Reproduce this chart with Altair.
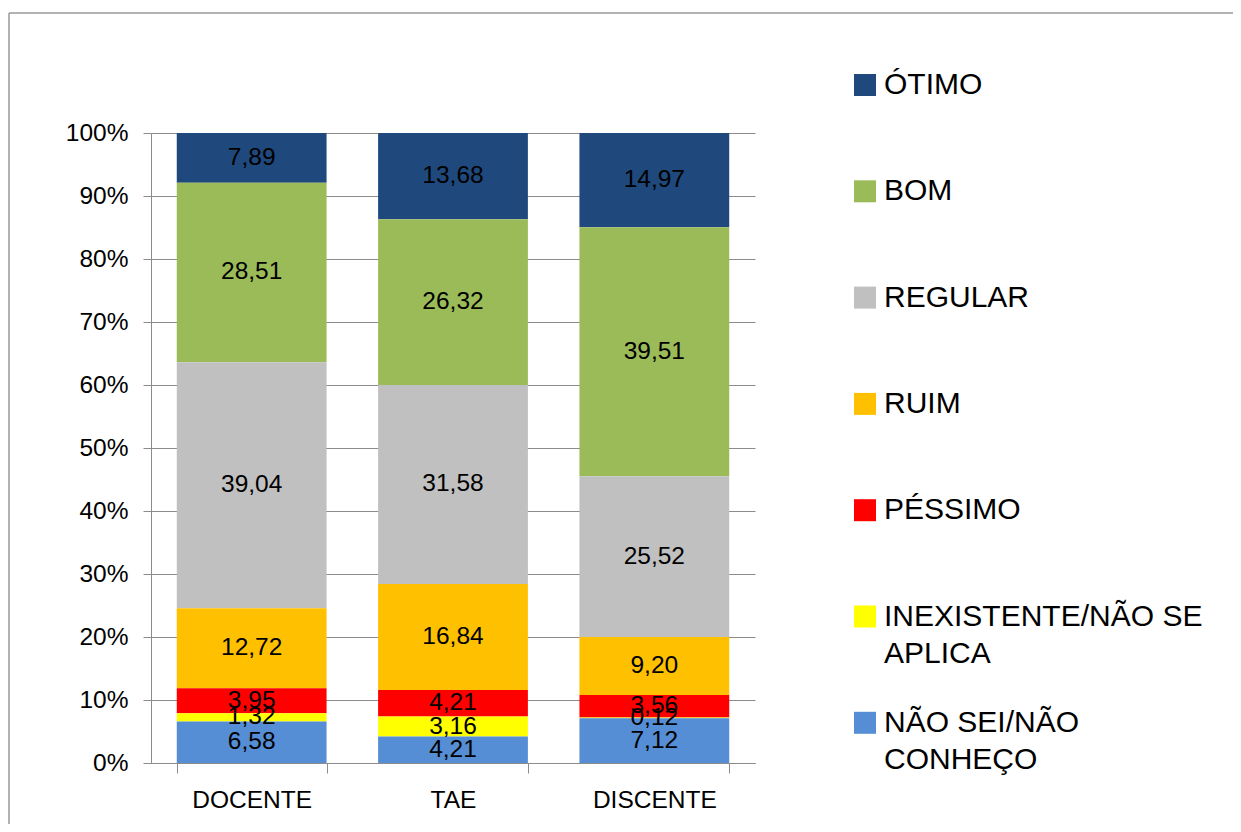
import json
import altair as alt
import pandas as pd

categories = ["DOCENTE", "TAE", "DISCENTE"]
series = ["ÓTIMO", "BOM", "REGULAR", "RUIM", "PÉSSIMO",
          "INEXISTENTE/NÃO SE APLICA", "NÃO SEI/NÃO CONHEÇO"]
colors = ["#1F497D", "#9BBB59", "#C0C0C0", "#FFC000", "#FF0000", "#FFFF00", "#558ED5"]

otimo = [7.89, 13.68, 14.97]
bom = [28.51, 26.32, 39.51]
regular = [39.04, 31.58, 25.52]
ruim = [12.72, 16.84, 9.20]
pessimo = [3.95, 4.21, 3.56]
inexistente = [1.32, 3.16, 0.12]
nao_sei = [6.58, 4.21, 7.12]

legend_lines = {
    "INEXISTENTE/NÃO SE APLICA": ["INEXISTENTE/NÃO SE", "APLICA"],
    "NÃO SEI/NÃO CONHEÇO": ["NÃO SEI/NÃO", "CONHEÇO"],
}
y_ticks = [i / 10 for i in range(11)]

all_values = [otimo, bom, regular, ruim, pessimo, inexistente, nao_sei]
rows = []
for si, (s, vals) in enumerate(zip(series, all_values)):
    for c, v in zip(categories, vals):
        rows.append({"cat": c, "serie": s, "valor": v, "ordem": len(series) - 1 - si})
df = pd.DataFrame(rows)

label_expr = "datum.label"
for k, v in legend_lines.items():
    label_expr = f"datum.label == '{k}' ? {json.dumps(v, ensure_ascii=False)} : ({label_expr})"

FONT = "Liberation Sans"
GRAY = "#8C8C8C"

base = (
    alt.Chart(df)
    .transform_stack(
        stack="valor", groupby=["cat"], as_=["y0", "y1"], offset="normalize",
        sort=[alt.SortField("ordem", order="ascending")],
    )
    .transform_calculate(
        ym="(datum.y0 + datum.y1) / 2",
        rot="replace(format(datum.valor, '.2f'), '.', ',')",
    )
)

x_enc = alt.X(
    "cat:N", sort=categories,
    scale=alt.Scale(paddingInner=0.256, paddingOuter=0.128),
    axis=alt.Axis(title=None, labelAngle=0, tickBand="extent", tickSize=10,
                  labelPadding=15, domainColor=GRAY, tickColor=GRAY,
                  labelFont=FONT, labelFontSize=24.5, labelColor="black"),
)

bars = base.mark_bar().encode(
    x=x_enc,
    y=alt.Y("y0:Q", scale=alt.Scale(domain=[0, 1]),
            axis=alt.Axis(title=None, values=y_ticks, format=".0%", grid=True,
                          gridColor=GRAY, domainColor=GRAY, tickColor=GRAY,
                          tickSize=8, labelPadding=15,
                          labelFont=FONT, labelFontSize=24.5, labelColor="black")),
    y2="y1:Q",
    color=alt.Color(
        "serie:N",
        scale=alt.Scale(domain=series, range=colors),
        legend=alt.Legend(
            title=None, orient="none", legendX=699, legendY=-63,
            symbolType="square", symbolSize=484, symbolStrokeWidth=0,
            symbolOpacity=1, labelFontSize=30, labelFont=FONT,
            labelColor="black", labelOffset=4, labelLimit=600,
            rowPadding=39.3, gridAlign="all", padding=0, labelExpr=label_expr,
        ),
    ),
)

texts = base.mark_text(fontSize=24.5, font=FONT, color="black", baseline="middle").encode(
    x=alt.X("cat:N", sort=categories),
    y=alt.Y("ym:Q"),
    text="rot:N",
)

frame_df = pd.DataFrame({"k": [0]})
top_line = alt.Chart(frame_df).mark_rule(color="#999999", strokeWidth=1.5).encode(
    x=alt.value(-142), x2=alt.value(1100), y=alt.value(-120)
)
left_line = alt.Chart(frame_df).mark_rule(color="#999999", strokeWidth=1.5).encode(
    x=alt.value(-142), y=alt.value(-120), y2=alt.value(700)
)

chart = (
    alt.layer(top_line, left_line, bars, texts)
    .properties(
        width=604, height=630,
        autosize=alt.AutoSizeParams(type="none"),
        padding={"left": 143, "top": 125, "right": 478, "bottom": 61},
    )
    .configure(style={"guide-label": {"lineHeight": 37}})
    .configure_view(strokeWidth=0)
)

chart.save("out.html", embed_options={"renderer": "svg", "actions": False})
